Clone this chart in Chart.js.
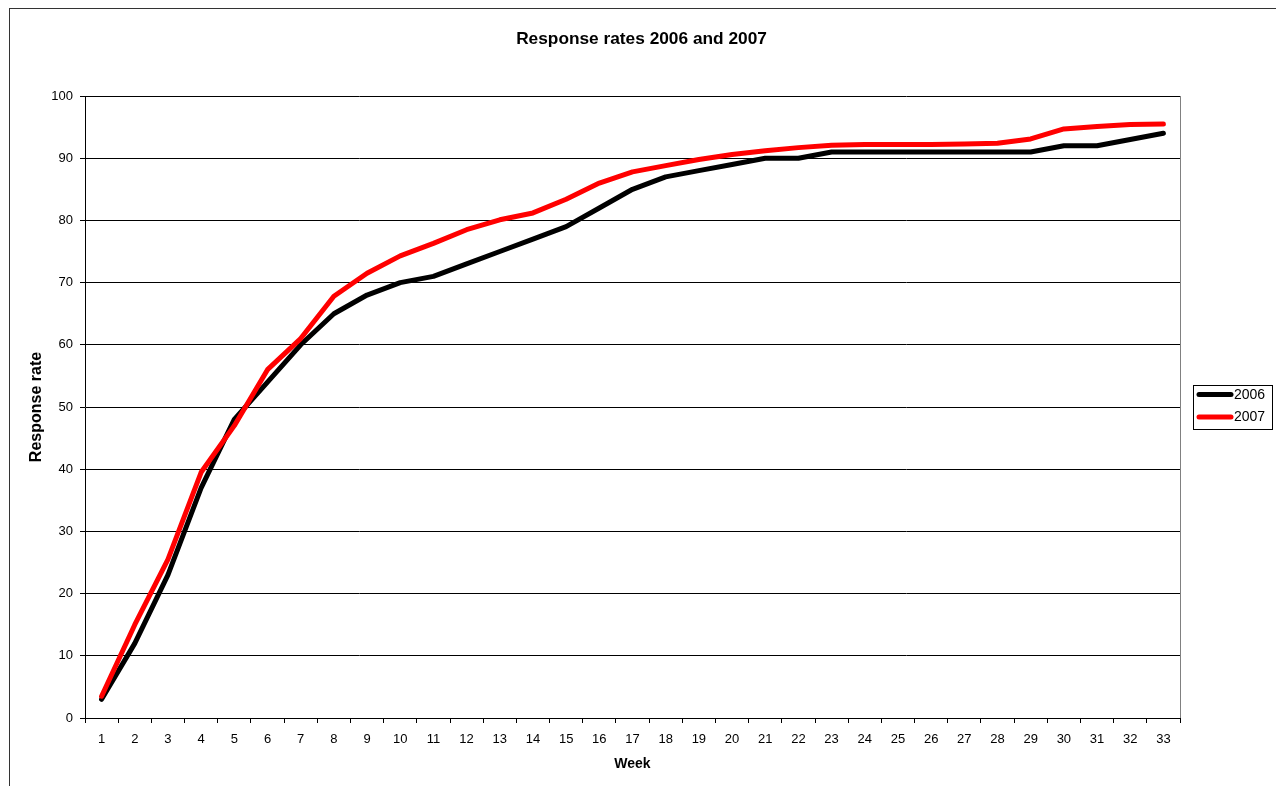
<!DOCTYPE html>
<html>
<head>
<meta charset="utf-8">
<script src="https://cdn.jsdelivr.net/npm/chart.js@4.4.1/dist/chart.umd.min.js"></script>
<style>
  html, body { margin: 0; padding: 0; background: #fff; }
  #wrap { position: relative; width: 1276px; height: 786px; }
</style>
</head>
<body>
<div id="wrap"><canvas id="chart" width="1276" height="786"></canvas></div>
<script>
// Weekly cumulative response rates (%)
const weeks = ['1','2','3','4','5','6','7','8','9','10','11','12','13','14','15','16','17','18','19','20','21','22','23','24','25','26','27','28','29','30','31','32','33'];
const rate2006 = [3, 12, 23, 37, 48, 54, 60, 65, 68, 70, 71, 73, 75, 77, 79, 82, 85, 87, 88, 89, 90, 90, 91, 91, 91, 91, 91, 91, 91, 92, 92, 93, 94];
const rate2007 = [3.5, 15, 25.5, 39.5, 47, 56, 61, 67.8, 71.5, 74.3, 76.3, 78.5, 80.1, 81.2, 83.4, 86, 87.8, 88.8, 89.8, 90.6, 91.2, 91.7, 92.1, 92.2, 92.2, 92.2, 92.3, 92.4, 93.1, 94.7, 95.1, 95.4, 95.5];
const seriesLabels = ['2006', '2007'];
const seriesColors = ['#000000', '#ff0000'];
const chartTitle = 'Response rates 2006 and 2007';

const FONT = '"Liberation Sans", Arial, sans-serif';

// Outer frame, chart title, right edge of the plot area and a boxed legend
const decorations = {
  id: 'decorations',
  beforeDraw(chart) {
    const ctx = chart.ctx;
    ctx.save();
    ctx.fillStyle = '#ffffff';
    ctx.fillRect(0, 0, chart.width, chart.height);
    ctx.strokeStyle = '#333333';
    ctx.lineWidth = 1;
    ctx.strokeRect(9.5, 8.5, chart.width + 20, chart.height + 20);
    ctx.restore();
  },
  afterDraw(chart) {
    const ctx = chart.ctx;
    const area = chart.chartArea;
    ctx.save();

    // title, centred over the whole frame
    ctx.fillStyle = '#000000';
    ctx.font = 'bold 17.3px ' + FONT;
    ctx.textAlign = 'center';
    ctx.textBaseline = 'alphabetic';
    ctx.fillText(chartTitle, 641.5, 44);

    ctx.strokeStyle = '#808080';
    ctx.lineWidth = 1;
    ctx.beginPath();
    ctx.moveTo(Math.round(area.right) + 0.5, area.top);
    ctx.lineTo(Math.round(area.right) + 0.5, area.bottom);
    ctx.stroke();

    // legend
    const lx = 1193.5, ly = 385.5, lw = 79, lh = 44;
    ctx.strokeStyle = '#000000';
    ctx.strokeRect(lx, ly, lw, lh);
    ctx.font = '14px ' + FONT;
    ctx.textBaseline = 'middle';
    ctx.textAlign = 'left';
    chart.data.datasets.forEach((ds, i) => {
      const y = 394.5 + i * 22.5;
      ctx.strokeStyle = ds.borderColor;
      ctx.lineWidth = 5;
      ctx.lineCap = 'round';
      ctx.beginPath();
      ctx.moveTo(1199, y);
      ctx.lineTo(1231, y);
      ctx.stroke();
      ctx.fillStyle = '#000000';
      ctx.fillText(ds.label, 1234, y + 0.5);
    });
    ctx.restore();
  }
};

new Chart(document.getElementById('chart'), {
  type: 'line',
  data: {
    labels: weeks,
    datasets: [
      { label: seriesLabels[0], data: rate2006, borderColor: seriesColors[0], backgroundColor: seriesColors[0],
        borderWidth: 5, pointRadius: 0, tension: 0, borderCapStyle: 'round', borderJoinStyle: 'round', order: 1 },
      { label: seriesLabels[1], data: rate2007, borderColor: seriesColors[1], backgroundColor: seriesColors[1],
        borderWidth: 5, pointRadius: 0, tension: 0, borderCapStyle: 'round', borderJoinStyle: 'round', order: 0 }
    ]
  },
  options: {
    responsive: false,
    animation: false,
    events: [],
    layout: { padding: { left: 0, top: 96, right: 96, bottom: 0 } },
    plugins: {
      legend: { display: false },
      tooltip: { enabled: false },
      title: { display: false }
    },
    scales: {
      x: {
        type: 'category',
        offset: true,
        grid: { offset: true, drawOnChartArea: false, drawTicks: true, tickLength: 5, color: '#000' },
        border: { display: true, color: '#000', width: 1 },
        ticks: { color: '#000', font: { family: FONT, size: 13 }, padding: 9, maxRotation: 0, autoSkip: false },
        title: { display: true, text: 'Week', color: '#000', font: { family: FONT, size: 14, weight: 'bold' }, padding: { top: 0, bottom: 13.5 } },
        afterFit(scale) { scale.height = 68; }
      },
      y: {
        min: 0,
        max: 100,
        ticks: { stepSize: 10, color: '#000', font: { family: FONT, size: 13 }, padding: 7 },
        grid: { color: '#000', drawTicks: true, tickLength: 5 },
        border: { display: true, color: '#000', width: 1 },
        title: { display: true, text: 'Response rate', color: '#000', font: { family: FONT, size: 16, weight: 'bold' }, padding: { top: 27, bottom: 0 } },
        afterFit(scale) { scale.width = 85; }
      }
    }
  },
  plugins: [decorations]
});
</script>
</body>
</html>
